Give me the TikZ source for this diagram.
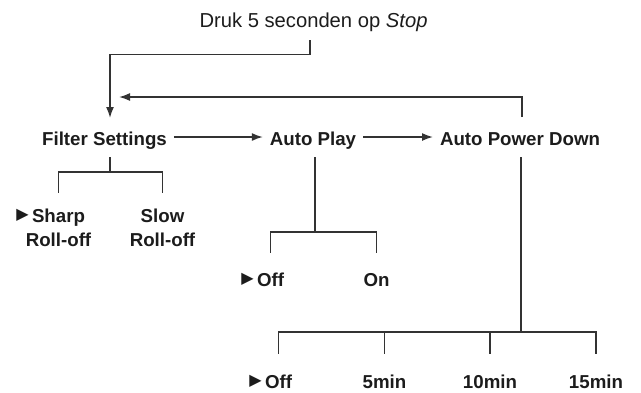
\documentclass[tikz,border=0pt]{standalone}
\usepackage{fontspec}
\setmainfont{Liberation Sans}
\newfontfamily\symfont{DejaVu Sans}
\usetikzlibrary{arrows.meta, positioning}
\definecolor{linegray}{HTML}{333333}
\definecolor{ink}{HTML}{1C1C1C}
\tikzset{
  menu/.style={ % top row of the menu
    font=\bfseries\fontsize{18.7bp}{24bp}\selectfont, text=ink,
    anchor=base, inner sep=0pt, outer sep=0pt,
    text height=16bp, text depth=0pt},
  option/.style={ % choices below a menu item
    font=\bfseries\fontsize{18.7bp}{24bp}\selectfont, text=ink,
    anchor=north, inner sep=0pt, outer sep=0pt,
    text height=13.6bp, text depth=4bp},
  chosen/.style={ % factory setting
    label={[font=\symfont\fontsize{16bp}{16bp}\selectfont, text=ink,
      inner sep=0pt, label distance=3bp, yshift=2bp]left:▶}},
  link/.style={draw=linegray, line width=1.6bp},
  arr/.style={link, -{Latex[length=11bp,width=8bp]}},
  next/.style={arr, shorten <=7bp, shorten >=7bp}
}

\begin{document}
\begin{tikzpicture}[x=1bp, y=-1bp]
  \useasboundingbox (0,0) rectangle (641,392);
  \node[font=\fontsize{20.2bp}{24bp}\selectfont, text=ink, anchor=base, inner sep=0pt]
    (title) at (313.5,27) {Druk 5 seconden op \textit{Stop}};
  % menu
  \node[menu] (filter) at (104.5,145) {Filter Settings};
  \node[menu] (play) at (313,145) {Auto Play};
  \node[menu] (power) at (520,145) {Auto Power Down};
  % choices
  \node[option, chosen] (sharp) at (58.5,208.4) {Sharp};
  \node[option, below=6.4bp of sharp] (sharp2) {Roll-off};
  \node[option] (slow) at (162.5,208.4) {Slow};
  \node[option, below=6.4bp of slow] (slow2) {Roll-off};
  \node[option, chosen] (off) at (270.5,272.4) {Off};
  \node[option] (on) at (376.5,272.4) {On};
  \node[option, chosen] (never) at (278.5,374.4) {Off};
  \node[option] (five) at (384.5,374.4) {5min};
  \node[option] (ten) at (490,374.4) {10min};
  \node[option] (fifteen) at (596,374.4) {15min};
  \coordinate (entry) at (110,118);
  \coordinate (back) at (119,97);
  % arrows
  \draw[arr] ([xshift=-3.5bp]title.south) ++(0,9) -- ++(0,14) -| (entry);
  \draw[arr] ([xshift=2bp]power.north) ++(0,-12) |- (back);
  \draw[next] (filter) -- (play);
  \draw[next] (play) -- (power);
  % trees
  \draw[link] ([xshift=5.5bp]filter.south) ++(0,12) -- ++(0,15) coordinate (fbar)
    -| ([yshift=15bp]sharp.north);
  \draw[link] (fbar) -| ([yshift=15bp]slow.north);
  \draw[link] ([xshift=2bp]play.south) ++(0,12) -- ++(0,75) coordinate (pbar)
    -| ([yshift=19bp]off.north);
  \draw[link] (pbar) -| ([yshift=19bp]on.north);
  \draw[link] ([xshift=1bp]power.south) ++(0,12) -- ++(0,175) coordinate (wbar)
    -| ([yshift=20bp]never.north);
  \foreach \t in {five,ten,fifteen}
    \draw[link] (wbar) -| ([yshift=20bp]\t.north);
\end{tikzpicture}
\end{document}
